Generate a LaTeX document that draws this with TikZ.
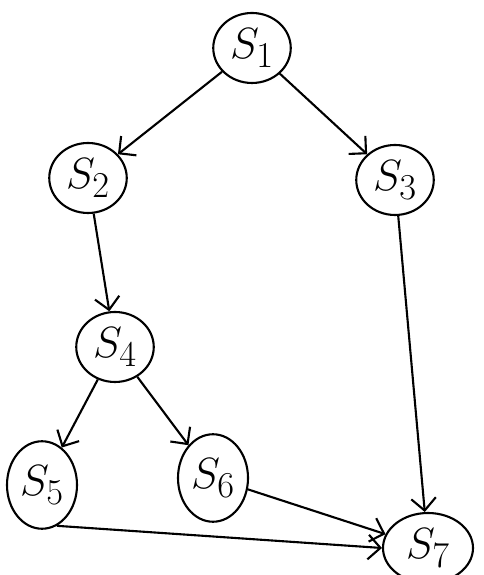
\documentclass[tikz,border=0pt]{standalone}
\usepackage{tikz}
\usetikzlibrary{positioning,shapes.geometric,arrows.meta}

\begin{document}
\begin{tikzpicture}[auto, on grid, >={Straight Barb[length=7pt,width=14pt]}]
		\tikzstyle{state} = [ellipse, draw=black, line width=1.2pt, inner sep=0pt, minimum width=1.55cm, minimum height=1.4cm, font=\Huge];
		\tikzstyle{tall} = [state, minimum width=1.4cm, minimum height=1.75cm];
		\useasboundingbox (0,0) rectangle (9.66,11.5);
		
		\node[state](s1) at (5.04,10.54){$S_1$};
		\node[state, below left = 2.60cm and 3.28cm of s1](s2){$S_2$};
		\node[state, below right = 2.64cm and 2.86cm of s1](s3){$S_3$};
		\node[state, below right = 3.38cm and 0.54cm of s2](s4){$S_4$};
		\node[tall, below left = 2.76cm and 1.46cm of s4](s5){$S_5$};
		\node[tall, below right = 2.62cm and 1.96cm of s4](s6){$S_6$};
		\node[state, minimum width=1.8cm, below right = 7.36cm and 0.66cm of s3](s7){$S_7$};
		
		\path[draw=black, line width=1.2pt, ->] (s1) edge (s2)
		(s1) edge (s3)
		(s2) edge (s4)
		(s3) edge (s7)
		(s4) edge (s5)
		(s4) edge (s6)
		(s6) edge (s7);
		\draw[line width=1.2pt, ->] (s5.-70) -- (s7.west);
\end{tikzpicture}
\end{document}
